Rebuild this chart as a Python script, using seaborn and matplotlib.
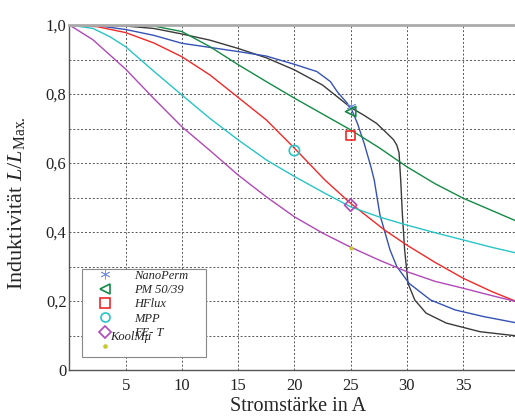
import numpy as np
import pandas as pd
import matplotlib
matplotlib.use("Agg")
import matplotlib.pyplot as plt
from matplotlib.lines import Line2D
from matplotlib.patches import Rectangle
import seaborn as sns

# Inductance roll-off curves L/L_max versus current (A)
current_black = [0, 2.5, 5, 7.5, 10, 12.5, 15, 17.5, 20, 22.5, 24, 25, 26.2, 27.3, 28.2, 28.8,
                 29.1, 29.3, 29.45, 29.6, 29.8, 30.1, 30.7, 31.7, 33.5, 36.5, 40]
ratio_black = [1.0, 0.999, 0.997, 0.99, 0.974, 0.956, 0.932, 0.905, 0.870, 0.826, 0.787, 0.761,
               0.738, 0.715, 0.687, 0.668, 0.652, 0.630, 0.550, 0.450, 0.348, 0.251, 0.203,
               0.165, 0.136, 0.111, 0.098]

current_nanoperm = [0, 2.5, 5, 7.5, 10, 12.5, 15, 17.5, 20, 22.0, 23.2, 23.8, 24.7, 25.1, 25.6,
                    26.2, 26.8, 27.1, 27.6, 28.5, 29.1, 30.2, 32.1, 34.3, 36.8, 40]
ratio_nanoperm = [1.0, 0.998, 0.987, 0.970, 0.947, 0.935, 0.923, 0.910, 0.886, 0.865, 0.836,
                  0.807, 0.773, 0.754, 0.715, 0.657, 0.589, 0.550, 0.450, 0.348, 0.300, 0.251,
                  0.203, 0.174, 0.155, 0.135]

current_pm = [0, 5, 7.5, 10, 12.5, 15, 17.5, 20, 22.5, 25, 27.5, 30, 32.5, 35, 37.5, 40]
ratio_pm = [1.0, 1.0, 0.997, 0.981, 0.937, 0.885, 0.836, 0.788, 0.742, 0.696, 0.645, 0.589,
            0.540, 0.498, 0.463, 0.428]

current_hflux = [0, 2.5, 5, 7.5, 10, 12.5, 15, 17.5, 20, 22.7, 25, 28, 30, 32.5, 35, 37.5, 40]
ratio_hflux = [1.0, 0.995, 0.978, 0.948, 0.908, 0.855, 0.790, 0.725, 0.643, 0.551, 0.483,
               0.406, 0.362, 0.312, 0.266, 0.228, 0.195]

current_mpp = [0, 2.1, 3.6, 5, 7.5, 10, 12.5, 15, 17.5, 20, 22.5, 25, 27.5, 30, 32.5, 35, 37.5, 40]
ratio_mpp = [1.0, 0.99, 0.966, 0.937, 0.866, 0.797, 0.729, 0.667, 0.609, 0.561, 0.516, 0.473,
             0.444, 0.420, 0.398, 0.377, 0.356, 0.337]

current_fet = [0, 2.1, 5, 7.5, 10, 12.5, 15, 17.5, 20, 22.5, 25, 27.5, 30, 32.5, 35, 37.5, 40]
ratio_fet = [1.0, 0.957, 0.872, 0.787, 0.705, 0.636, 0.565, 0.502, 0.444, 0.397, 0.356, 0.319,
             0.285, 0.257, 0.237, 0.216, 0.196]

# Single measured points
point_labels = ["NanoPerm", "PM 50/39", "HFlux", "MPP", "FE- T", "KoolMμ"]
point_current = [25, 25, 25, 20, 25, 25]
point_ratio = [0.765, 0.749, 0.679, 0.636, 0.478, 0.353]

x_ticks = [5, 10, 15, 20, 25, 30, 35]
y_ticks = [0, 0.1, 0.2, 0.3, 0.4, 0.5, 0.6, 0.7, 0.8, 0.9, 1.0]
y_tick_labels = ["0", "", "0,2", "", "0,4", "", "0,6", "", "0,8", "", "1,0"]

sns.set_style("white")
plt.rcParams["font.family"] = ["Liberation Serif", "DejaVu Serif"]
plt.rcParams["mathtext.fontset"] = "custom"
plt.rcParams["mathtext.rm"] = "Liberation Serif"
plt.rcParams["mathtext.it"] = "Liberation Serif:italic"

col_black = "#3a3a3a"
col_blue = "#3552b5"
col_star = "#7d93dc"
col_green = "#138a45"
col_red = "#f02828"
col_cyan = "#27c4c8"
col_mag = "#b048b8"
col_yel = "#c8c830"

frames = []
for name, xs, ys in [("black", current_black, ratio_black),
                     ("NanoPerm", current_nanoperm, ratio_nanoperm),
                     ("PM 50/39", current_pm, ratio_pm),
                     ("HFlux", current_hflux, ratio_hflux),
                     ("MPP", current_mpp, ratio_mpp),
                     ("FE- T", current_fet, ratio_fet)]:
    frames.append(pd.DataFrame({"I": xs, "L": ys, "curve": name}))
curves = pd.concat(frames, ignore_index=True)
palette = {"black": col_black, "NanoPerm": col_blue, "PM 50/39": col_green,
           "HFlux": col_red, "MPP": col_cyan, "FE- T": col_mag}

fig = plt.figure(figsize=(5.15, 4.17), dpi=100)
ax = fig.add_axes([69.4 / 515, 47 / 417, 450 / 515, 345 / 417])

sns.lineplot(data=curves, x="I", y="L", hue="curve", palette=palette, estimator=None,
             sort=False, linewidth=1.0, legend=False, ax=ax)

marker_styles = [(6, 2, 0), "<", "s", "o", "D", "."]
marker_colors = [col_star, col_green, col_red, col_cyan, col_mag, col_yel]
marker_sizes = [40, 55, 45, 55, 40, 20]
for lab, xv, yv, m, c, s in zip(point_labels, point_current, point_ratio,
                                marker_styles, marker_colors, marker_sizes):
    pts = pd.DataFrame({"I": [xv], "L": [yv]})
    if m == ".":
        sns.scatterplot(data=pts, x="I", y="L", marker="o", s=7, color=c,
                        edgecolor=c, ax=ax, zorder=5)
    elif m == (6, 2, 0):
        sns.scatterplot(data=pts, x="I", y="L", marker=m, s=s, color=c,
                        linewidth=0.6, ax=ax, zorder=5)
    else:
        sns.scatterplot(data=pts, x="I", y="L", marker=m, s=s, facecolors="none",
                        edgecolor=c, linewidth=1.2, ax=ax, zorder=5)

ax.set_xlim(0, 40)
ax.set_ylim(0, 1.0)
ax.set_xticks(x_ticks)
ax.set_xticklabels([str(v) for v in x_ticks])
ax.set_yticks(y_ticks)
ax.set_yticklabels(y_tick_labels)
ax.tick_params(axis="both", length=0, labelsize=12, colors="#222222")
ax.tick_params(axis="y", pad=2)
ax.tick_params(axis="x", pad=6)
ax.grid(True, linestyle=(0, (2, 2)), color="#555555", linewidth=0.7)
ax.set_axisbelow(True)

for side in ["left", "bottom"]:
    ax.spines[side].set_color("#555555")
    ax.spines[side].set_linewidth(1.0)
ax.spines["top"].set_color("#aaaaaa")
ax.spines["top"].set_linewidth(2.0)
ax.spines["right"].set_visible(False)

ax.set_xlabel("Stromstärke in A", fontsize=14.5)
ax.xaxis.set_label_coords(0.508, -0.077)
ax.set_ylabel("Induktivität $L/L_{\\mathrm{Max.}}$", fontsize=16)
ax.yaxis.set_label_coords(-0.094, 0.484)

# Legend frame, then marker/label rows inside it
ax.add_patch(Rectangle((0.028, 0.0377), 0.2756, 0.255, transform=ax.transAxes,
                       facecolor="white", edgecolor="#888888", linewidth=0.8, zorder=9))

handles = []
for m, c in zip(marker_styles, marker_colors):
    if m == ".":
        handles.append(Line2D([], [], linestyle="none", marker="o", markersize=2.3,
                              color=c))
    elif m == (6, 2, 0):
        handles.append(Line2D([], [], linestyle="none", marker=m, markersize=7,
                              color=c, markeredgewidth=0.6))
    else:
        handles.append(Line2D([], [], linestyle="none", marker=m, markersize=6.5,
                              markerfacecolor="none", markeredgecolor=c,
                              markeredgewidth=1.2))
legend_labels = point_labels[:5] + [""]
leg = ax.legend(handles, legend_labels, loc="upper left",
                bbox_to_anchor=(0.0313, 0.2913), prop={"style": "italic", "size": 9},
                frameon=False, handlelength=3.4, handletextpad=0.65, labelspacing=0.19,
                borderpad=0, borderaxespad=0)
leg.set_zorder(10)
ax.text(0.090, 0.0957, point_labels[5], transform=ax.transAxes, fontsize=9,
        style="italic", va="center", ha="left", zorder=11, color="#222222")

fig.savefig("out.png", dpi=100)
